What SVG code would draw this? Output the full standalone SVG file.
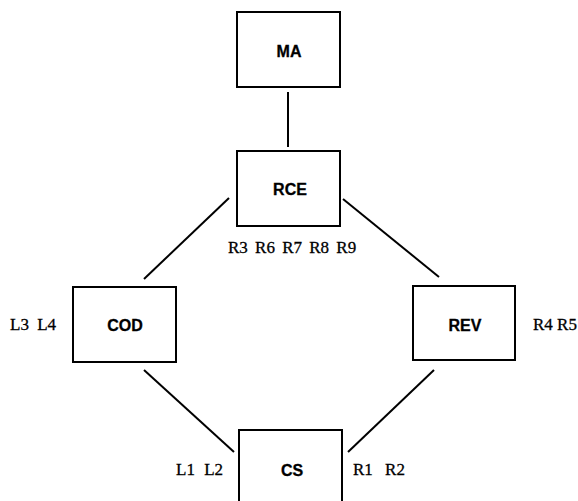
<svg xmlns="http://www.w3.org/2000/svg" width="578" height="501" viewBox="0 0 578 501">
  <style>
    .box { fill: #fff; stroke: #000; stroke-width: 2; }
    .name { font-family: "Liberation Sans", Arial, sans-serif; font-weight: bold; font-size: 16px; text-anchor: middle; fill: #000; stroke: #000; stroke-width: 0.3; }
    .tag { font-family: "Liberation Serif", "Times New Roman", serif; font-size: 17px; fill: #000; stroke: #000; stroke-width: 0.3; }
    .link { stroke: #000; stroke-width: 2; fill: none; }
  </style>
  <rect width="578" height="501" fill="#fff"/>
  <g id="connectors">
    <line class="link" x1="288" y1="92" x2="288" y2="147"/>
    <line class="link" x1="229" y1="198" x2="144" y2="279"/>
    <line class="link" x1="343" y1="199" x2="439" y2="277"/>
    <line class="link" x1="144" y1="370" x2="234" y2="452"/>
    <line class="link" x1="434" y1="370" x2="348" y2="452"/>
  </g>
  <g id="MA">
    <rect class="box" x="237" y="12" width="103" height="75"/>
    <text class="name" x="289" y="57">MA</text>
  </g>
  <g id="RCE">
    <rect class="box" x="237" y="151" width="103" height="75"/>
    <text class="name" x="290" y="195">RCE</text>
    <text class="tag" x="228" y="253" word-spacing="3">R3 R6 R7 R8 R9</text>
  </g>
  <g id="COD">
    <rect class="box" x="73" y="287" width="103" height="75"/>
    <text class="name" x="125" y="331">COD</text>
    <text class="tag" x="10" y="330" word-spacing="4">L3 L4</text>
  </g>
  <g id="REV">
    <rect class="box" x="413" y="286" width="102" height="74"/>
    <text class="name" x="465" y="331">REV</text>
    <text class="tag" x="533" y="330">R4 R5</text>
  </g>
  <g id="CS">
    <rect class="box" x="239" y="430" width="103" height="80"/>
    <text class="name" x="292" y="476">CS</text>
    <text class="tag" x="176" y="475" word-spacing="5">L1 L2</text>
    <text class="tag" x="353" y="475" word-spacing="8">R1 R2</text>
  </g>
</svg>
